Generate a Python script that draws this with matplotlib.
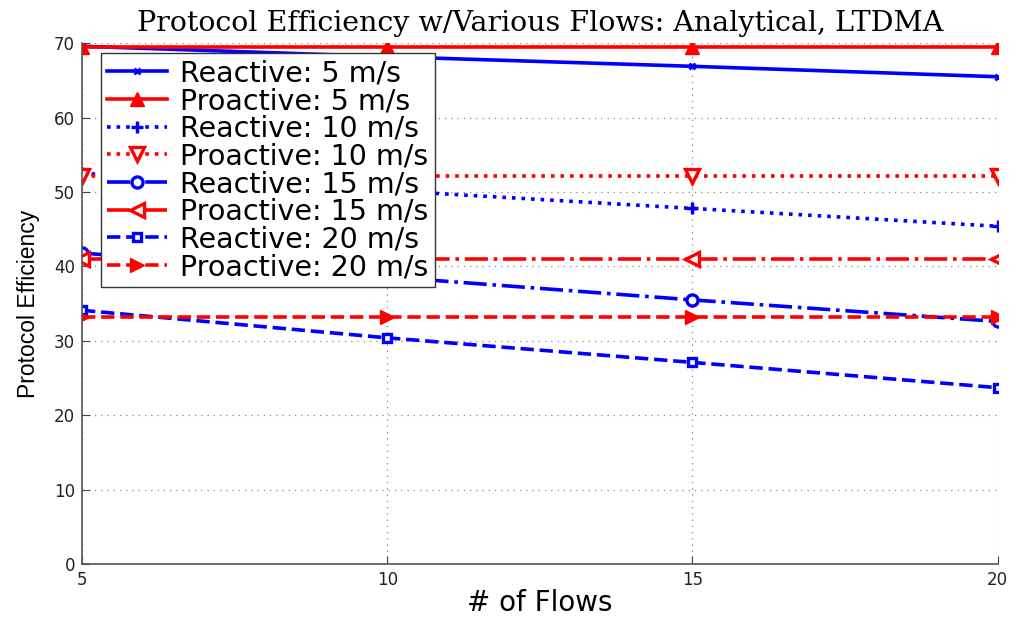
import matplotlib
matplotlib.use("Agg")
import matplotlib.pyplot as plt

flows = [5, 10, 15, 20]
reactive_5 = [69.6, 68.2, 66.9, 65.5]
proactive_5 = [69.5, 69.5, 69.5, 69.5]
reactive_10 = [52.5, 50.2, 47.8, 45.4]
proactive_10 = [52.2, 52.2, 52.2, 52.2]
reactive_15 = [41.8, 38.6, 35.5, 32.6]
proactive_15 = [41.0, 41.0, 41.0, 41.0]
reactive_20 = [34.1, 30.4, 27.1, 23.7]
proactive_20 = [33.2, 33.2, 33.2, 33.2]

labels = ["Reactive: 5 m/s", "Proactive: 5 m/s", "Reactive: 10 m/s", "Proactive: 10 m/s",
          "Reactive: 15 m/s", "Proactive: 15 m/s", "Reactive: 20 m/s", "Proactive: 20 m/s"]
yticks = [0, 10, 20, 30, 40, 50, 60, 70]

plt.rcParams['font.family'] = ['DejaVu Sans']
fig = plt.figure(figsize=(10.16, 6.18), dpi=100)
ax = fig.add_axes([0.0807, 0.0874, 0.9013, 0.8426])

blue = '#0000ff'
red = '#ff0000'
lw = 2.6
ax.plot(flows, reactive_5, color=blue, ls='-', lw=lw, marker='x', ms=5, mew=2, label=labels[0])
ax.plot(flows, proactive_5, color=red, ls='-', lw=lw, marker='^', ms=10, mfc=red, label=labels[1])
ax.plot(flows, reactive_10, color=blue, ls=':', lw=lw, marker='+', ms=8, mew=2.4, label=labels[2])
ax.plot(flows, proactive_10, color=red, ls=':', lw=lw, marker='v', ms=10, mfc='white', mew=2.4, label=labels[3])
ax.plot(flows, reactive_15, color=blue, ls='-.', lw=lw, marker='o', ms=8, mfc='white', mew=2.4, label=labels[4])
ax.plot(flows, proactive_15, color=red, ls='-.', lw=lw, marker='<', ms=10, mfc='white', mew=2.4, label=labels[5])
ax.plot(flows, reactive_20, color=blue, ls='--', lw=lw, marker='s', ms=6, mfc='white', mew=2.4, label=labels[6])
ax.plot(flows, proactive_20, color=red, ls='--', lw=lw, marker='>', ms=10, mfc=red, label=labels[7])

ax.set_xlim(5, 20)
ax.set_ylim(0, 70)
ax.set_xticks(flows)
ax.set_yticks(yticks)
ax.grid(True, color='#888888', ls=(0, (1, 4)), lw=0.9)
ax.tick_params(direction='in', length=6, labelsize=12, color='#444444', labelcolor='#222222', pad=5)
for s in ['top', 'right']:
    ax.spines[s].set_visible(False)
for s in ['left', 'bottom']:
    ax.spines[s].set_color('#555555')
    ax.spines[s].set_linewidth(1.2)

ax.set_xlabel('# of Flows', fontsize=20, labelpad=0)
ax.set_ylabel('Protocol Efficiency', fontsize=16.5, family='Liberation Sans', labelpad=10)
ax.set_title('Protocol Efficiency w/Various Flows: Analytical, LTDMA', family='DejaVu Serif',
             fontsize=20.5, pad=9)

leg = ax.legend(loc='upper left', bbox_to_anchor=(0.021, 0.981), fontsize=20.5, frameon=True,
                fancybox=False, edgecolor='#333333', framealpha=1, handlelength=2.1,
                borderpad=0.22, labelspacing=-0.012, handletextpad=0.45, borderaxespad=0)
leg.get_frame().set_linewidth(1.0)

fig.savefig('out.png', dpi=100)
